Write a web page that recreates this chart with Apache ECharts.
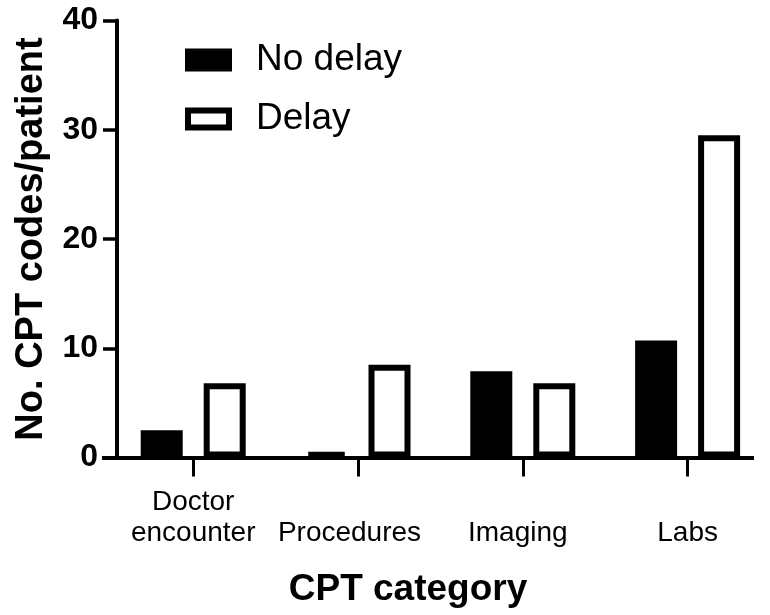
<!DOCTYPE html>
<html>
<head>
<meta charset="utf-8">
<script src="https://cdn.jsdelivr.net/npm/echarts@6/dist/echarts.min.js"></script>
<style>
html,body{margin:0;padding:0;background:#fff;}
#chart{width:770px;height:615px;}
</style>
</head>
<body>
<div id="chart"></div>
<script>
// ---- data ----
const categories = ['Doctor\nencounter', 'Procedures', 'Imaging', 'Labs'];
const seriesNames = ['No delay', 'Delay'];
const noDelay = [2.5, 0.5, 7.9, 10.7];
const delay = [6.8, 8.5, 6.8, 29.5];
const yTicks = [0, 10, 20, 30, 40];

// ---- styling ----
const FONT = 'Liberation Sans, Arial, sans-serif';
const TOP = 20.5, BOTTOM = 157.5;
const labelShift = { 'Procedures': 17, 'Imaging': 10 };
const xLabelStyle = {
  fontFamily: FONT, fontSize: 28, color: '#000',
  lineHeight: 31, verticalAlign: 'bottom', align: 'center'
};

const chart = echarts.init(document.getElementById('chart'), null, { renderer: 'canvas' });

const option = {
  backgroundColor: '#fff',
  animation: false,
  legend: {
    orient: 'vertical',
    left: 185,
    top: 40,
    padding: 0,
    itemWidth: 41,
    itemHeight: 17,
    itemGap: 19,
    icon: 'rect',
    selectedMode: false,
    textStyle: { fontFamily: FONT, fontSize: 37, color: '#000', lineHeight: 40, padding: [0, 0, 0, 22] },
    data: [
      { name: seriesNames[0], itemStyle: { color: '#000', borderColor: '#000', borderWidth: 6 } },
      { name: seriesNames[1], itemStyle: { color: '#fff', borderColor: '#000', borderWidth: 6 } }
    ]
  },
  grid: [
    { left: 110.8, width: 673.3, top: TOP, bottom: BOTTOM },
    { left: 102, right: 16, top: TOP, bottom: BOTTOM }
  ],
  xAxis: [
    {
      type: 'category',
      gridIndex: 0,
      data: categories.map(c => labelShift[c]
        ? { value: c, textStyle: Object.assign({}, xLabelStyle, { padding: [0, labelShift[c], 0, 0] }) }
        : c),
      axisLine: { show: false },
      axisTick: { show: true, alignWithLabel: true, length: 19, lineStyle: { color: '#000', width: 3 } },
      axisLabel: Object.assign({ margin: 91, interval: 0 }, xLabelStyle),
      splitLine: { show: false }
    },
    {
      type: 'value',
      gridIndex: 1,
      min: 0, max: 1,
      axisLine: { show: true, lineStyle: { color: '#000', width: 4, cap: 'butt' } },
      axisTick: { show: false },
      axisLabel: { show: false },
      splitLine: { show: false },
      name: 'CPT category',
      nameLocation: 'middle',
      nameGap: 114,
      nameTextStyle: { fontFamily: FONT, fontSize: 37, fontWeight: 'bold', color: '#000', padding: [0, 40, 0, 0] }
    }
  ],
  yAxis: [
    { type: 'value', gridIndex: 0, min: 0, max: 40, show: false },
    {
      type: 'value',
      gridIndex: 1,
      min: yTicks[0], max: yTicks[yTicks.length - 1], interval: 10,
      position: 'left',
      offset: -15,
      axisLine: { show: true, lineStyle: { color: '#000', width: 4 } },
      axisTick: { show: true, length: 14, lineStyle: { color: '#000', width: 3.5 } },
      axisLabel: { fontFamily: FONT, fontSize: 32, fontWeight: 'bold', color: '#000', margin: 19 },
      splitLine: { show: false },
      name: 'No. CPT codes/patient',
      nameLocation: 'middle',
      nameGap: 66,
      nameTextStyle: { fontFamily: FONT, fontSize: 38, fontWeight: 'bold', color: '#000' }
    }
  ],
  series: [
    {
      name: seriesNames[0], type: 'bar', xAxisIndex: 0, yAxisIndex: 0,
      data: noDelay, barWidth: 42, barGap: '50%',
      itemStyle: { color: '#000', borderColor: '#000', borderWidth: 6 }
    },
    {
      name: seriesNames[1], type: 'bar', xAxisIndex: 0, yAxisIndex: 0,
      data: delay, barWidth: 42, barGap: '50%',
      itemStyle: { color: '#fff', borderColor: '#000', borderWidth: 6 }
    }
  ]
};
chart.setOption(option);
</script>
</body>
</html>
